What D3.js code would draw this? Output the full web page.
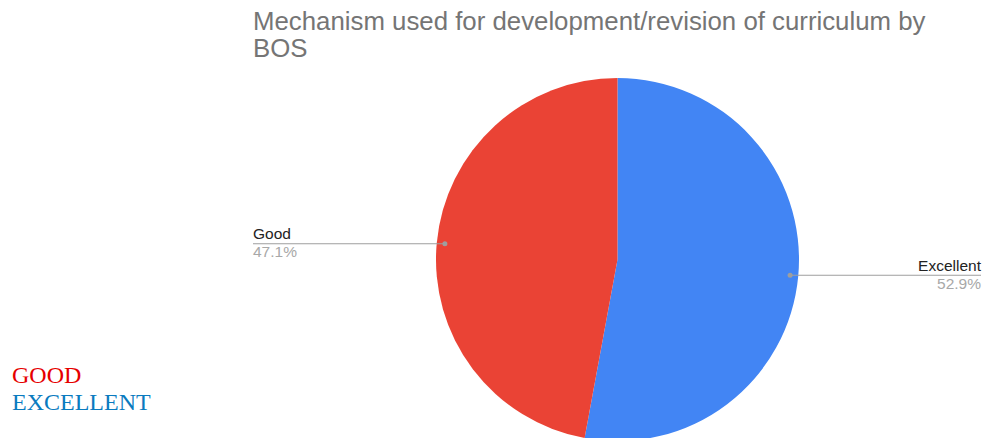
<!DOCTYPE html>
<html><head><meta charset="utf-8">
<script src="https://cdn.jsdelivr.net/npm/d3@7"></script>
<style>body{margin:0;background:#fff;overflow:hidden}</style>
</head><body>
<svg id="c" width="985" height="438"></svg>
<script>
const categories = ["Excellent", "Good"];
const values = [52.9, 47.1];
const colors = ["#4285F4", "#EA4335"];
const legendLabels = ["GOOD", "EXCELLENT"];
const legendColors = ["#e60000", "#0a7bbf"];
const titleLines = ["Mechanism used for development/revision of curriculum by", "BOS"];

const svg = d3.select("#c");
const cx = 617.5, cy = 259.5, r = 181.5;

svg.append("g").selectAll("text").data(titleLines).join("text")
  .attr("x", 253).attr("y", (d,i) => 30 + i*27)
  .attr("font-family", "Liberation Sans, Arial, sans-serif")
  .attr("font-size", 25.8).attr("fill", "#757575").text(d => d);

const pie = d3.pie().sort(null).value(d => d)(values);
const arc = d3.arc().innerRadius(0).outerRadius(r);
const g = svg.append("g").attr("transform", `translate(${cx},${cy})`);
g.selectAll("path").data(pie).join("path")
  .attr("d", arc).attr("fill", (d,i) => colors[i]);

// labels
const dotArc = d3.arc().innerRadius(r*0.955).outerRadius(r*0.955);
pie.forEach((d,i) => {
  const [px, py] = dotArc.centroid(d);
  const right = px > 0;
  const x = cx + px, y = cy + py;
  const endX = right ? 981 : 253;
  svg.append("line").attr("x1", x).attr("y1", y).attr("x2", endX).attr("y2", y)
    .attr("stroke", "#9e9e9e").attr("stroke-width", 1.2);
  svg.append("circle").attr("cx", x).attr("cy", y).attr("r", 2.5).attr("fill", "#9e9e9e");
  svg.append("text").attr("x", endX).attr("y", y - 4.3)
    .attr("text-anchor", right ? "end" : "start")
    .attr("font-family", "Liberation Sans, Arial, sans-serif").attr("font-size", 15.5)
    .attr("fill", "#222").text(categories[i]);
  svg.append("text").attr("x", endX).attr("y", y + 13.7)
    .attr("text-anchor", right ? "end" : "start")
    .attr("font-family", "Liberation Sans, Arial, sans-serif").attr("font-size", 15.5)
    .attr("fill", "#a8a8a8").text(values[i].toFixed(1) + "%");
});

svg.append("g").selectAll("text").data(legendLabels).join("text")
  .attr("x", 12).attr("y", (d,i) => 383 + i*27)
  .attr("font-family", "Liberation Serif, Times New Roman, serif")
  .attr("font-size", 24).attr("fill", (d,i) => legendColors[i]).text(d => d);
</script>
</body></html>
